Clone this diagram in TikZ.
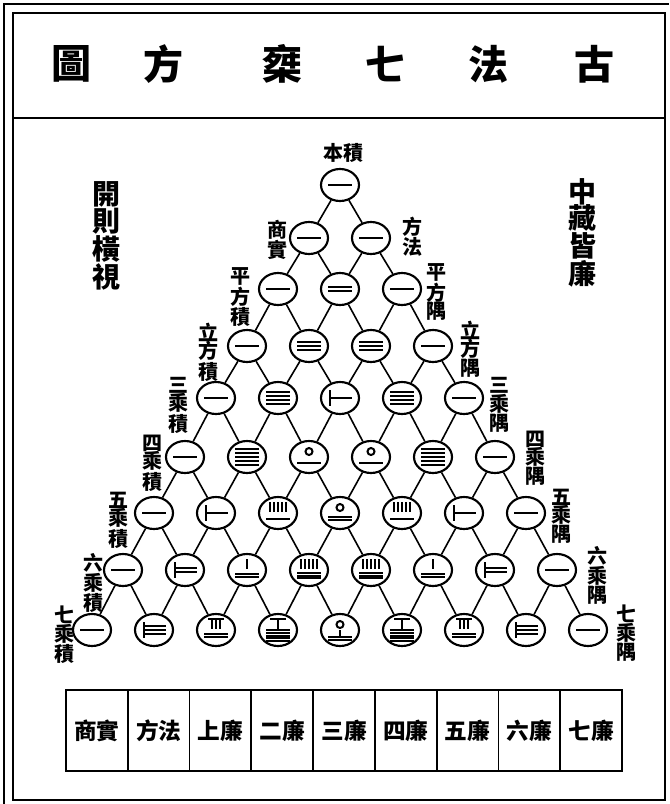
\documentclass[tikz,border=0pt]{standalone}
\usepackage{fontspec}
\newfontfamily\cjk{Noto Sans CJK TC}
\usetikzlibrary{shapes.geometric}

\newcommand\rodhl[5]{%
  \foreach \rodi in {1,...,#1}{%
    \draw[rod] (#2,{#4+(\rodi-(#1+1)/2)*#5}) -- (#3,{#4+(\rodi-(#1+1)/2)*#5});
  }}
\newcommand\rodvl[5]{%
  \foreach \rodi in {1,...,#1}{%
    \draw[rod] ({#2+(\rodi-(#1+1)/2)*#5},#3) -- ({#2+(\rodi-(#1+1)/2)*#5},#4);
  }}
\newcommand\rodnum[2]{%
  \begin{scope}[shift={(#1.center)}]
  \pgfmathtruncatemacro\rodT{#2/10}%
  \pgfmathtruncatemacro\rodU{#2-10*\rodT}%
  \ifnum\rodT=0
    \ifnum\rodU<6
      \rodhl{\rodU}{-12}{12}{0}{3.8}%
    \else
      \pgfmathtruncatemacro\rodK{\rodU-5}%
      \draw[rod] (-10,-8) -- (-10,8);
      \rodhl{\rodK}{-10}{12}{0}{4}%
    \fi
  \else
    \ifnum\rodU=0
      \draw[rod] (0,-5.5) circle[radius=3.5];
    \else\ifnum\rodU<6
      \rodvl{\rodU}{0}{-11}{-1}{3.8}%
    \else
      \pgfmathtruncatemacro\rodK{\rodU-5}%
      \draw[rod] (-8,-11) -- (8,-11);
      \rodvl{\rodK}{0}{-11}{-1}{3.8}%
    \fi\fi
    \ifnum\rodT<6
      \rodhl{\rodT}{-12}{12}{5.5}{2.9}%
    \else
      \pgfmathtruncatemacro\rodK{\rodT-5}%
      \draw[rod] (0,0) -- (0,6);
      \rodhl{\rodK}{-12}{12}{8}{3}%
    \fi
  \fi
  \end{scope}}

\begin{document}
\begin{tikzpicture}[x=0.75pt,y=-0.75pt,
  rod/.style={line width=1.5pt},
  num/.style={draw, ellipse, line width=1.6pt, minimum width=28.5pt, minimum height=24pt, inner sep=0pt},
  link/.style={line width=1.2pt},
  lbl/.style={font=\cjk\bfseries\fontsize{15}{14}\selectfont, align=center, inner sep=0pt},
  big/.style={font=\cjk\bfseries\fontsize{21}{20}\selectfont, align=center, inner sep=0pt},
  ttl/.style={font=\cjk\bfseries\fontsize{30}{30}\selectfont, inner sep=0pt},
  cell/.style={draw, line width=1.3pt, minimum width=46.33pt, minimum height=60.75pt, inner sep=0pt, font=\cjk\bfseries\fontsize{17}{17}\selectfont}]
\useasboundingbox (0,0) rectangle (669,804);
\fill[white] (0,0) rectangle (669,804);
% frame
\draw[line width=2pt] (4,804) -- (4,4) -- (669,4);
\draw[line width=1.2pt] (13,13) rectangle (665,800);
\draw[line width=1.5pt] (13,118) -- (665,118);
% title
\node[ttl] (t1) at (71,64) {圖};
\node[ttl] (t2) at (163,64) {方};
\node[ttl] (t3) at (282,64) {椉};
\node[ttl] (t4) at (385,64) {七};
\node[ttl] (t5) at (488,64) {法};
\node[ttl] (t6) at (594,64) {古};
% triangle nodes
\foreach \r/\vals in {0/{1},1/{1,1},2/{1,2,1},3/{1,3,3,1},4/{1,4,6,4,1},5/{1,5,10,10,5,1},6/{1,6,15,20,15,6,1},7/{1,7,21,35,35,21,7,1},8/{1,8,28,56,70,56,28,8,1}}{
  \pgfmathsetmacro\yy{{185,238,289,346,398,457,513,570,630}[\r]}
  \foreach \v [count=\k from 0] in \vals {
    \pgfmathsetmacro\xx{340+(\k-\r/2)*62}
    \node[num] (n-\r-\k) at (\xx,\yy) {};
    \rodnum{n-\r-\k}{\v}
  }
}
% connectors
\foreach \r in {0,...,7}{
  \pgfmathtruncatemacro\rn{\r+1}
  \foreach \k in {0,...,\r}{
    \pgfmathtruncatemacro\kn{\k+1}
    \draw[link] (n-\r-\k) -- (n-\rn-\k);
    \draw[link] (n-\r-\k) -- (n-\rn-\kn);
  }
}
% labels
\node[lbl] (l0) at (343,153) {本積};
\node[lbl] (la1) at (277,240) {商\\實};
\node[lbl] (lb1) at (412,237) {方\\法};
\node[lbl] (la2) at (240,297) {平\\方\\積};
\node[lbl] (lb2) at (436,292) {平\\方\\隅};
\node[lbl] (la3) at (208,352) {立\\方\\積};
\node[lbl] (lb3) at (470,349) {立\\方\\隅};
\node[lbl] (la4) at (178,405) {三\\乘\\積};
\node[lbl] (lb4) at (499,405) {三\\乘\\隅};
\node[lbl] (la5) at (152,463) {四\\乘\\積};
\node[lbl] (lb5) at (535,458) {四\\乘\\隅};
\node[lbl] (la6) at (118,520) {五\\乘\\積};
\node[lbl] (lb6) at (561,516) {五\\乘\\隅};
\node[lbl] (la7) at (93,583) {六\\乘\\積};
\node[lbl] (lb7) at (597,575) {六\\乘\\隅};
\node[lbl] (la8) at (64,635) {七\\乘\\積};
\node[lbl] (lb8) at (626,633) {七\\乘\\隅};
\node[big] (kl) at (106,236) {開\\則\\橫\\視};
\node[big] (kr) at (582,233) {中\\藏\\皆\\廉};
% bottom cells
\foreach \c [count=\i from 0] in {商實,方法,上廉,二廉,三廉,四廉,五廉,六廉,七廉}{
  \node[cell] (c\i) at ({96.89+\i*61.78},730.5) {\c};
}
\end{tikzpicture}
\end{document}
